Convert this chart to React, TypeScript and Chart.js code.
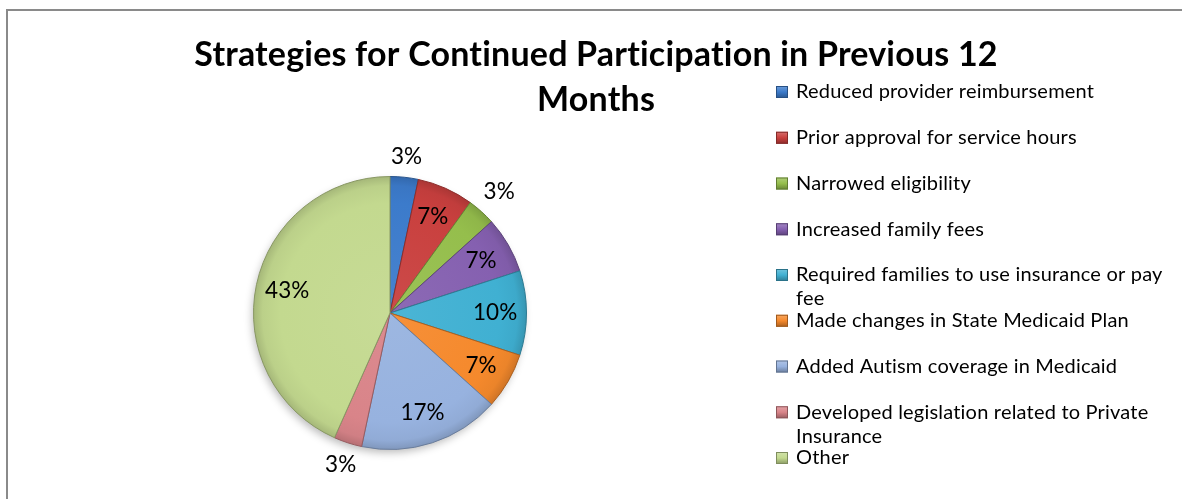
import React, { useEffect, useRef } from "react";
import { Chart, registerables } from "chart.js";

Chart.register(...registerables);

const titleLines = ["Strategies for Continued Participation in Previous 12", "Months"];

const categories: (string | string[])[] = [
  "Reduced provider reimbursement",
  "Prior approval for service hours",
  "Narrowed eligibility",
  "Increased family fees",
  ["Required families to use insurance or pay", "fee"],
  "Made changes in State Medicaid Plan",
  "Added Autism coverage in Medicaid",
  ["Developed legislation related to Private", "Insurance"],
  "Other",
];

// responses per strategy (shown as 3%, 7%, 3%, 7%, 10%, 7%, 17%, 3%, 43%)
const responses = [1, 2, 1, 2, 3, 2, 5, 1, 13];

const sliceColors = [
  "#3C7BCB",
  "#C9403E",
  "#95BE4C",
  "#8560B0",
  "#40B0D2",
  "#F5892C",
  "#97B2DF",
  "#D98489",
  "#C3D98F",
];

const FONT = "Lato, 'Open Sans', sans-serif";

function shade(hex: string, f: number): string {
  const n = parseInt(hex.slice(1), 16);
  let r = (n >> 16) & 255,
    g = (n >> 8) & 255,
    b = n & 255;
  const t = (c: number) =>
    Math.round(f < 0 ? c * (1 + f) : c + (255 - c) * f);
  r = t(r);
  g = t(g);
  b = t(b);
  return `rgb(${r},${g},${b})`;
}

const framePlugin = {
  id: "frame",
  beforeDraw(chart: any) {
    const { ctx, width, height } = chart;
    ctx.save();
    ctx.fillStyle = "#ffffff";
    ctx.fillRect(0, 0, width, height);
    ctx.strokeStyle = "#8a8a8a";
    ctx.lineWidth = 2;
    ctx.beginPath();
    ctx.moveTo(7, height);
    ctx.lineTo(7, 10);
    ctx.lineTo(width, 10);
    ctx.stroke();
    ctx.restore();
  },
};

const shadowPlugin = {
  id: "pieShadow",
  beforeDatasetsDraw(chart: any) {
    const meta = chart.getDatasetMeta(0);
    const arc = meta.data[0];
    if (!arc) return;
    const { x, y, outerRadius } = arc.getProps(["x", "y", "outerRadius"], true);
    const ctx = chart.ctx;
    ctx.save();
    ctx.shadowColor = "rgba(0,0,0,0.28)";
    ctx.shadowBlur = 9;
    ctx.shadowOffsetX = -2;
    ctx.shadowOffsetY = 4;
    ctx.fillStyle = "#ffffff";
    ctx.beginPath();
    ctx.arc(x, y, outerRadius - 1, 0, Math.PI * 2);
    ctx.fill();
    ctx.restore();
  },
};

const labelPlugin = {
  id: "pctLabels",
  afterDatasetsDraw(chart: any) {
    const ctx = chart.ctx;
    const data = chart.data.datasets[0].data as number[];
    const total = data.reduce((a, b) => a + b, 0);
    const meta = chart.getDatasetMeta(0);
    ctx.save();
    ctx.font = `22.5px ${FONT}`;
    ctx.fillStyle = "#000000";
    ctx.textAlign = "center";
    ctx.textBaseline = "middle";
    meta.data.forEach((el: any, i: number) => {
      const { x, y, startAngle, endAngle, outerRadius } = el.getProps(
        ["x", "y", "startAngle", "endAngle", "outerRadius"],
        true
      );
      const mid = (startAngle + endAngle) / 2;
      const frac = data[i] / total;
      const txt = Math.round(frac * 100) + "%";
      let d: number;
      if (frac < 0.05) {
        const hw = ctx.measureText(txt).width / 2;
        const hh = 11;
        d = outerRadius + 8 + Math.abs(Math.cos(mid)) * hw + Math.abs(Math.sin(mid)) * hh;
      } else {
        d = outerRadius * 0.77;
      }
      ctx.fillText(txt, x + Math.cos(mid) * d, y + Math.sin(mid) * d);
    });
    ctx.restore();
  },
};

const titleLegendPlugin = {
  id: "titleLegend",
  afterDraw(chart: any) {
    const ctx = chart.ctx;
    ctx.save();
    ctx.fillStyle = "#000000";
    ctx.textAlign = "center";
    ctx.textBaseline = "alphabetic";
    try {
      (ctx as any).letterSpacing = "0.2px";
    } catch (e) {}
    ctx.font = `bold 34px ${FONT}`;
    ctx.fillText(titleLines[0], 596, 66);
    ctx.fillText(titleLines[1], 596, 111);

    ctx.font = `20px ${FONT}`;
    ctx.textAlign = "left";
    ctx.textBaseline = "middle";
    const labels = chart.data.labels as (string | string[])[];
    labels.forEach((lab, i) => {
      const y0 = 92 + i * 45.75;
      const c = sliceColors[i];
      const g = ctx.createLinearGradient(0, y0 - 6, 0, y0 + 6);
      g.addColorStop(0, shade(c, 0.25));
      g.addColorStop(0.5, c);
      g.addColorStop(1, shade(c, -0.3));
      ctx.fillStyle = g;
      ctx.fillRect(776, y0 - 6, 12, 12);
      ctx.strokeStyle = shade(c, -0.35);
      ctx.lineWidth = 1;
      ctx.strokeRect(776.5, y0 - 5.5, 11, 11);
      ctx.fillStyle = "#000000";
      const lines = Array.isArray(lab) ? lab : [lab];
      lines.forEach((ln, j) => ctx.fillText(ln, 796, y0 + j * 24));
    });
    ctx.restore();
  },
};

export default function App() {
  const ref = useRef<HTMLCanvasElement | null>(null);

  useEffect(() => {
    document.body.style.margin = "0";
    const canvas = ref.current;
    if (!canvas) return;
    const chart = new Chart(canvas, {
      type: "pie",
      data: {
        labels: categories as any,
        datasets: [
          {
            data: responses,
            backgroundColor: (c: any) => {
              const base = sliceColors[c.dataIndex % sliceColors.length];
              const area = c.chart.chartArea;
              if (!area) return base;
              const cx = (area.left + area.right) / 2;
              const cy = (area.top + area.bottom) / 2;
              const r = Math.min(area.right - area.left, area.bottom - area.top) / 2;
              const g = c.chart.ctx.createRadialGradient(cx, cy, 0, cx, cy, r);
              g.addColorStop(0, shade(base, 0.06));
              g.addColorStop(0.8, base);
              g.addColorStop(0.93, shade(base, -0.04));
              g.addColorStop(1, shade(base, -0.16));
              return g;
            },
            borderColor: sliceColors.map((c) => shade(c, -0.3)),
            borderWidth: 1,
          },
        ],
      },
      options: {
        responsive: false,
        animation: false,
        devicePixelRatio: 1,
        layout: { padding: { left: 253, right: 655, top: 176, bottom: 49 } },
        plugins: {
          legend: { display: false },
          title: { display: false },
          tooltip: { enabled: false },
        },
      },
      plugins: [framePlugin, shadowPlugin, labelPlugin, titleLegendPlugin],
    });
    return () => chart.destroy();
  }, []);

  return (
    <div style={{ position: "fixed", left: 0, top: 0, width: 1182, height: 499 }}>
      <canvas ref={ref} width={1182} height={499} style={{ display: "block" }} />
    </div>
  );
}
